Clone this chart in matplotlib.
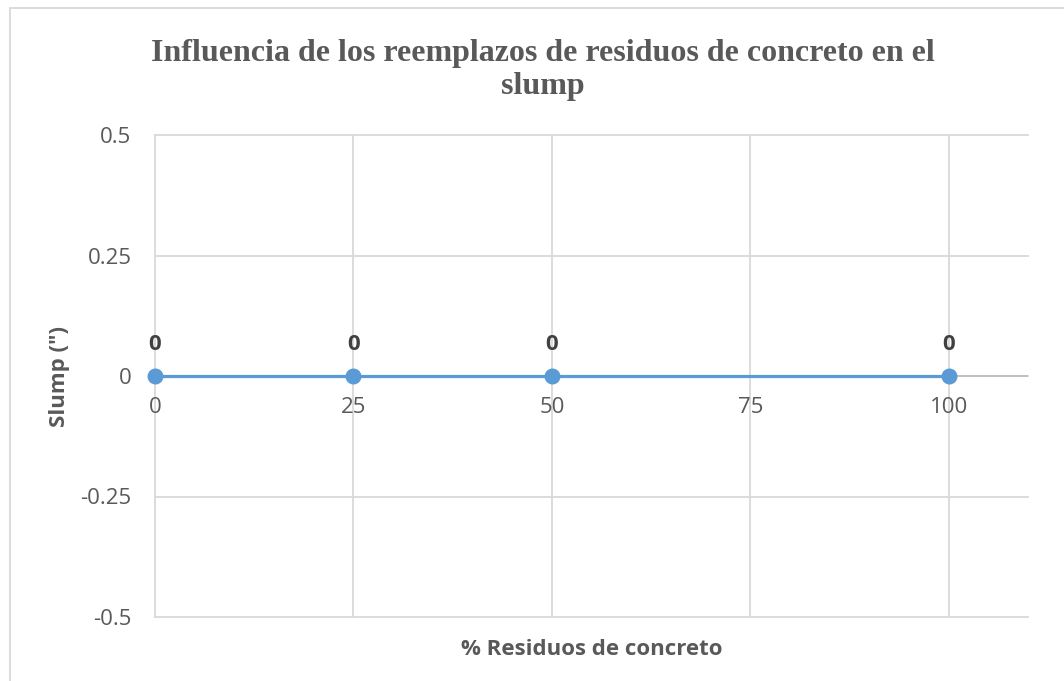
import matplotlib
matplotlib.use('Agg')
import matplotlib.pyplot as plt
from matplotlib.patches import Rectangle

# datos del ensayo de asentamiento
residuos = [0, 25, 50, 100]          # % de reemplazo
slump = [0, 0, 0, 0]                 # pulgadas
x_ticks = [0, 25, 50, 75, 100]
y_ticks = [-0.5, -0.25, 0, 0.25, 0.5]
y_ticklabels = ['-0.5', '-0.25', '0', '0.25', '0.5']

GRIS_TXT = '#595959'
GRIS_GRID = '#d9d9d9'
AZUL = '#5b9bd5'
SANS = 'Open Sans'
FS = 16

fig = plt.figure(figsize=(10.64, 6.81), dpi=100)
fig.patch.set_facecolor('white')

# marco del gráfico (se sale por la derecha y por abajo)
fig.patches.append(Rectangle((10 / 1064, -0.1), 1.2, 1 - 7.5 / 681 + 0.1,
                             transform=fig.transFigure, fill=False,
                             edgecolor=GRIS_GRID, lw=1.3))

ax = fig.add_axes([155 / 1064, 64 / 681, 873 / 1064, 482 / 681])
ax.set_xlim(0, 110)
ax.set_ylim(-0.5, 0.5)
for s in ax.spines.values():
    s.set_visible(False)

ax.set_xticks(x_ticks)
ax.set_yticks(y_ticks)
ax.set_xticklabels([])
ax.set_yticklabels(y_ticklabels, fontsize=FS, color=GRIS_TXT, family=SANS)
ax.tick_params(axis='both', length=0)
ax.tick_params(axis='y', pad=17)
ax.grid(True, color=GRIS_GRID, lw=1.3)
for gl in ax.get_xgridlines() + ax.get_ygridlines():
    gl.set_clip_on(False)

# eje horizontal en cero
ax.axhline(0, color='#bfbfbf', lw=1.3, zorder=2)

# etiquetas del eje x bajo la línea del cero
for xt in x_ticks:
    ax.annotate(str(xt), (xt, 0), xytext=(0, -23), textcoords='offset points',
                ha='center', va='center', fontsize=FS, color=GRIS_TXT,
                family=SANS)

ax.plot(residuos, slump, color=AZUL, lw=2.3, marker='o', markersize=10.5,
        zorder=3, clip_on=False)
for xv, yv in zip(residuos, slump):
    ax.annotate(f'{yv:g}', (xv, yv), xytext=(0, 23), textcoords='offset points',
                ha='center', va='center', fontsize=FS, fontweight='bold',
                color='#404040', family=SANS)

ax.set_xlabel('% Residuos de concreto', fontsize=FS, fontweight='bold',
              color=GRIS_TXT, family=SANS, labelpad=12)
ax.set_ylabel('Slump (")', fontsize=FS, fontweight='bold',
              color=GRIS_TXT, family=SANS)
ax.yaxis.set_label_coords(-85 / 873, 0.5)

fig.text(0.51, 1 - 70 / 681,
         'Influencia de los reemplazos de residuos de concreto en el\nslump',
         ha='center', va='center', fontsize=23, fontweight='bold',
         family='Liberation Serif', color=GRIS_TXT, linespacing=1.2)

fig.savefig('out.png', dpi=100)
